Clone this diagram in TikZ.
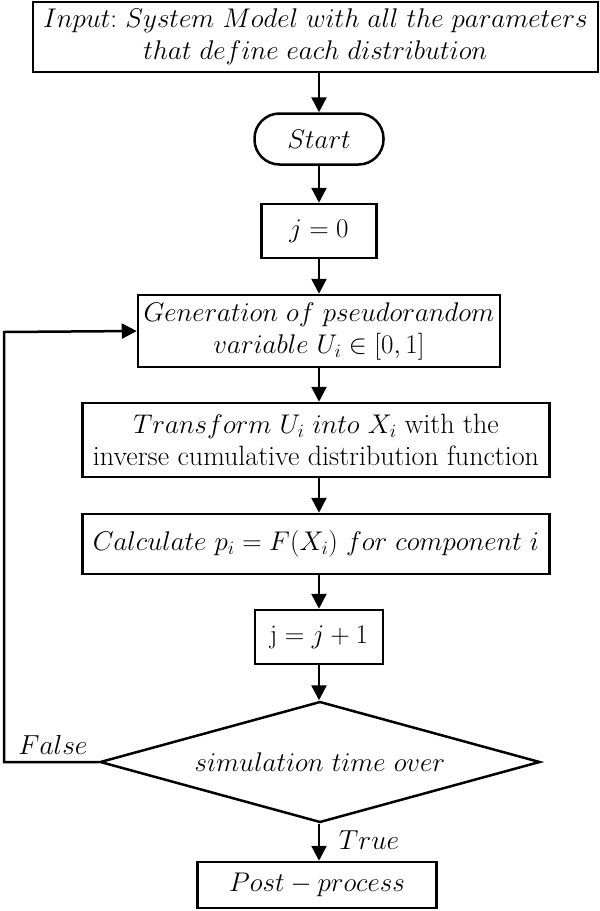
\RequirePackage{fix-cm}
\documentclass[tikz,border=0pt]{standalone}
\usetikzlibrary{shapes.geometric,arrows.meta}
\begin{document}
\tikzset{
  box/.style={draw, line width=2.5pt, align=center, inner sep=0pt,
    font=\fontsize{27}{32}\selectfont},
  decision/.style={box, diamond, aspect=3.6},
  flow/.style={-{Triangle[length=15pt,width=15pt]}, line width=2.5pt},
  lbl/.style={font=\fontsize{27.5}{30}\selectfont, inner sep=0pt},
}
\newcommand\uprtext[1]{{\fontsize{28}{32}\selectfont #1}}
\begin{tikzpicture}[x=1pt,y=-1pt]
\useasboundingbox (0,0) rectangle (600,911);

\node[box, minimum width=565pt, minimum height=70pt] (input) at (315.5,37)
  {$Input{:}\ System\ Model\ with\ all\ the\ parameters$\\
   $that\ define\ each\ distribution$};
\node[box, rounded corners=25pt, minimum width=129pt, minimum height=51pt] (start) at (319,139)
  {$Start$};
\node[box, minimum width=115pt, minimum height=54pt] (j0) at (319,231)
  {$j=0$};
\node[box, minimum width=362pt, minimum height=72pt] (gen) at (319,331)
  {$Generation\ of\ pseudorandom$\\
   $variable\ U_i\in\mathrm{[0,1]}$};
\node[box, minimum width=467pt, minimum height=74pt] (trans) at (316,440)
  {$Transform\ U_i\ into\ X_i$ \uprtext{with the}\\
   \uprtext{inverse cumulative distribution function}};
\node[box, minimum width=467pt, minimum height=60pt] (calc) at (316,544)
  {$Calculate\ p_i=F(X_i)\ for\ component\ i$};
\node[box, minimum width=128pt, minimum height=54pt] (jinc) at (319,637)
  {j${}=j+1$};
\node[decision, minimum width=440pt, minimum height=121pt] (dec) at (320,762)
  {$simulation\ time\ over$};
\node[box, minimum width=239pt, minimum height=46pt] (post) at (317,885)
  {$Post-process$};

\coordinate (lb) at (4,762);
\coordinate (lt) at (4,332);

\draw[flow] (input.south -| start.north) -- (start.north);
\draw[flow] (start.south) -- (j0.north);
\draw[flow] (j0.south) -- (gen.north);
\draw[flow] (gen.south) -- (gen.south |- trans.north);
\draw[flow] (gen.south |- trans.south) -- (gen.south |- calc.north);
\draw[flow] (gen.south |- calc.south) -- (jinc.north);
\draw[flow] (jinc.south) -- (jinc.south |- dec.north);
\draw[flow] (jinc.south |- dec.south) -- (jinc.south |- post.north);
\draw[flow] (dec.west) -- (lb) -- (lt) -- (gen.west);

\node[lbl] (false) at (53,745) {$False$};
\node[lbl] (true) at (369,840) {$True$};
\end{tikzpicture}
\end{document}
